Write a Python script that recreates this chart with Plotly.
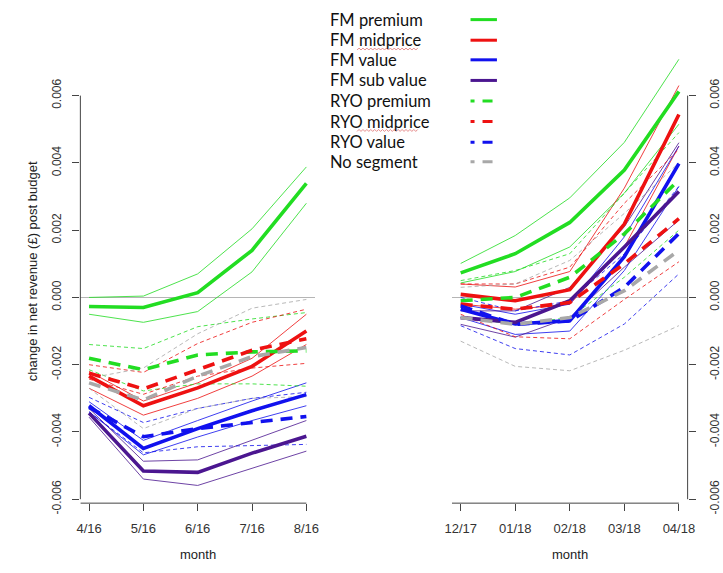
import plotly.graph_objects as go

# ---------------- data ----------------
months_1 = ["4/16", "5/16", "6/16", "7/16", "8/16"]
months_2 = ["12/17", "01/18", "02/18", "03/18", "04/18"]

series_names = ["FM premium", "FM midprice", "FM value", "FM sub value",
                "RYO premium", "RYO midprice", "RYO value", "No segment"]

# period 1 (2016): central estimate, lower and upper bound
fm_premium_1 = [-0.00027, -0.0003, 0.00014, 0.0014, 0.00339]
fm_premium_1_hi = [0.0, 0.00004, 0.0007, 0.00204, 0.00388]
fm_premium_1_lo = [-0.0005, -0.00074, -0.00042, 0.00076, 0.0028]
fm_midprice_1 = [-0.00234, -0.00322, -0.00269, -0.00205, -0.001]
fm_midprice_1_hi = [-0.0022, -0.00308, -0.00254, -0.00181, -0.0005]
fm_midprice_1_lo = [-0.0027, -0.0035, -0.003, -0.00234, -0.0014]
fm_value_1 = [-0.00322, -0.00449, -0.0039, -0.00337, -0.00289]
fm_value_1_hi = [-0.0031, -0.00425, -0.00366, -0.00308, -0.00254]
fm_value_1_lo = [-0.0034, -0.00468, -0.00415, -0.00366, -0.00322]
fm_subvalue_1 = [-0.00344, -0.00516, -0.0052, -0.00463, -0.00413]
fm_subvalue_1_hi = [-0.0033, -0.00487, -0.00483, -0.00425, -0.00366]
fm_subvalue_1_lo = [-0.00356, -0.0054, -0.00559, -0.00507, -0.00457]
ryo_premium_1 = [-0.00181, -0.00215, -0.00171, -0.00162, -0.00159]
ryo_premium_1_hi = [-0.0014, -0.00152, -0.00087, -0.00064, -0.00045]
ryo_premium_1_lo = [-0.00215, -0.00278, -0.00257, -0.00257, -0.00264]
ryo_midprice_1 = [-0.00225, -0.00272, -0.00215, -0.00157, -0.00123]
ryo_midprice_1_hi = [-0.002, -0.00223, -0.00137, -0.00074, -0.00035]
ryo_midprice_1_lo = [-0.00243, -0.00288, -0.00234, -0.0021, -0.00196]
ryo_value_1 = [-0.00327, -0.00414, -0.0039, -0.00371, -0.00354]
ryo_value_1_hi = [-0.00297, -0.00372, -0.0033, -0.003, -0.00282]
ryo_value_1_lo = [-0.0034, -0.00462, -0.00444, -0.0044, -0.00437]
no_segment_1 = [-0.00254, -0.00305, -0.00234, -0.00176, -0.00149]
no_segment_1_hi = [-0.0024, -0.0021, -0.00108, -0.00032, -0.00006]
no_segment_1_lo = [-0.0027, -0.0039, -0.0033, -0.003, -0.00295]

# period 2 (2017/18)
fm_premium_2 = [0.00073, 0.0013, 0.00223, 0.00379, 0.00612]
fm_premium_2_hi = [0.00101, 0.00184, 0.00296, 0.00461, 0.00708]
fm_premium_2_lo = [0.00043, 0.00077, 0.0015, 0.0031, 0.00515]
fm_midprice_2 = [0.00009, -0.0001, 0.00023, 0.00218, 0.00544]
fm_midprice_2_hi = [0.0004, 0.00031, 0.00077, 0.00325, 0.0063]
fm_midprice_2_lo = [-0.0002, -0.00035, -0.0002, 0.0015, 0.0045]
fm_value_2 = [-0.00035, -0.00079, -0.00069, 0.00121, 0.00398]
fm_value_2_hi = [-0.0002, -0.0005, -0.0002, 0.0018, 0.0045]
fm_value_2_lo = [-0.0006, -0.0011, -0.001, 0.0008, 0.0033]
fm_subvalue_2 = [-0.0006, -0.00074, -0.0001, 0.0015, 0.00315]
fm_subvalue_2_hi = [-0.0004, -0.0004, 0.0003, 0.0021, 0.0046]
fm_subvalue_2_lo = [-0.0008, -0.00118, -0.0006, 0.0009, 0.0023]
ryo_premium_2 = [-0.0001, 0.0, 0.0006, 0.00189, 0.0035]
ryo_premium_2_hi = [0.0005, 0.0008, 0.0013, 0.0031, 0.0049]
ryo_premium_2_lo = [-0.0006, -0.0008, -0.0006, 0.0006, 0.002]
ryo_midprice_2 = [-0.0002, -0.00035, -0.00015, 0.001, 0.00234]
ryo_midprice_2_hi = [0.0004, 0.0004, 0.0009, 0.0028, 0.0044]
ryo_midprice_2_lo = [-0.0005, -0.00117, -0.00123, -0.00006, 0.00106]
ryo_value_2 = [-0.00025, -0.0008, -0.0007, 0.0003, 0.0019]
ryo_value_2_hi = [0.0, -0.0004, -0.0001, 0.0013, 0.0033]
ryo_value_2_lo = [-0.00084, -0.00152, -0.00171, -0.00079, 0.0007]
no_segment_2 = [-0.0006, -0.0008, -0.0006, 0.0002, 0.0014]
no_segment_2_hi = [0.0003, 0.0004, 0.0011, 0.0025, 0.004]
no_segment_2_lo = [-0.0013, -0.00205, -0.00218, -0.00157, -0.00084]

y_tick_vals = [-0.006, -0.004, -0.002, 0.0, 0.002, 0.004, 0.006]
y_tick_text = ["-0.006", "-0.004", "-0.002", "0.000", "0.002", "0.004", "0.006"]

# ---------------- styling ----------------
colors = ["#22dd22", "#ee1111", "#1111ee", "#4b1690",
          "#22dd22", "#ee1111", "#1111ee", "#a8a8a8"]
dashed = [False, False, False, False, True, True, True, True]

W, H = 723, 573
def px(x):
    return x / W
def py(y):
    return 1 - y / H

period1 = [
    (fm_premium_1, fm_premium_1_lo, fm_premium_1_hi),
    (fm_midprice_1, fm_midprice_1_lo, fm_midprice_1_hi),
    (fm_value_1, fm_value_1_lo, fm_value_1_hi),
    (fm_subvalue_1, fm_subvalue_1_lo, fm_subvalue_1_hi),
    (ryo_premium_1, ryo_premium_1_lo, ryo_premium_1_hi),
    (ryo_midprice_1, ryo_midprice_1_lo, ryo_midprice_1_hi),
    (ryo_value_1, ryo_value_1_lo, ryo_value_1_hi),
    (no_segment_1, no_segment_1_lo, no_segment_1_hi),
]
period2 = [
    (fm_premium_2, fm_premium_2_lo, fm_premium_2_hi),
    (fm_midprice_2, fm_midprice_2_lo, fm_midprice_2_hi),
    (fm_value_2, fm_value_2_lo, fm_value_2_hi),
    (fm_subvalue_2, fm_subvalue_2_lo, fm_subvalue_2_hi),
    (ryo_premium_2, ryo_premium_2_lo, ryo_premium_2_hi),
    (ryo_midprice_2, ryo_midprice_2_lo, ryo_midprice_2_hi),
    (ryo_value_2, ryo_value_2_lo, ryo_value_2_hi),
    (no_segment_2, no_segment_2_lo, no_segment_2_hi),
]

fig = go.Figure()

for months, period, xa, ya in [(months_1, period1, "x", "y"), (months_2, period2, "x2", "y2")]:
    # thin interval lines first
    for i, (mid, lo, hi) in enumerate(period):
        for band in (lo, hi):
            fig.add_trace(go.Scatter(
                x=months, y=band, mode="lines", xaxis=xa, yaxis=ya,
                line=dict(color=colors[i], width=1, dash="4px,3px" if dashed[i] else "solid"),
                opacity=0.8, showlegend=False, hoverinfo="skip"))
    # thick central lines on top
    for i, (mid, lo, hi) in enumerate(period):
        fig.add_trace(go.Scatter(
            x=months, y=mid, mode="lines", xaxis=xa, yaxis=ya, name=series_names[i],
            line=dict(color=colors[i], width=3.6, dash="12px,8px" if dashed[i] else "solid"),
            showlegend=False))

# ---------------- axes ----------------
y_top, y_bot = 55, 513
scale = 34292.0   # px per unit
zero_px = 303.25
y_range = [(zero_px - y_bot) / scale, (zero_px - y_top) / scale]

tick_font = dict(family="Liberation Sans, Arial", size=12, color="#333333")
xtick_font = dict(family="Liberation Sans, Arial", size=13, color="#333333")

common_x = dict(type="category", range=[-0.16, 4.16], showgrid=False, zeroline=False,
                showline=False, ticks="outside", ticklen=7, tickcolor="#444444",
                tickfont=xtick_font, ticklabelstandoff=6, fixedrange=True)
common_y = dict(range=y_range, showgrid=False, zeroline=True, zerolinecolor="#b5b5b5",
                zerolinewidth=1, showline=False, ticks="outside", ticklen=7,
                tickcolor="#444444", tickvals=y_tick_vals, ticktext=y_tick_text,
                tickangle=-90, tickfont=tick_font, fixedrange=True)

fig.update_layout(
    width=W, height=H,
    margin=dict(l=0, r=0, t=0, b=0),
    paper_bgcolor="white", plot_bgcolor="white",
    xaxis=dict(domain=[px(74), px(314)], anchor="y", **common_x),
    yaxis=dict(domain=[py(y_bot), py(y_top)], anchor="x", side="left",
               ticklabelstandoff=7, **common_y),
    xaxis2=dict(domain=[px(454), px(695)], anchor="y2", **common_x),
    yaxis2=dict(domain=[py(y_bot), py(y_top)], anchor="x2", side="right",
                ticklabelstandoff=9, **common_y),
)

axis_col = "#444444"
shapes = [
    # left panel axis lines (R style)
    dict(type="line", xref="paper", yref="y", x0=px(74), x1=px(74), y0=-0.006, y1=0.006,
         line=dict(color=axis_col, width=1)),
    dict(type="line", xref="x", yref="paper", x0=-0.16, x1=4, y0=py(y_bot), y1=py(y_bot),
         line=dict(color=axis_col, width=1)),
    # right panel axis lines
    dict(type="line", xref="paper", yref="y2", x0=px(695), x1=px(695), y0=-0.006, y1=0.006,
         line=dict(color=axis_col, width=1)),
    dict(type="line", xref="x2", yref="paper", x0=-0.16, x1=4, y0=py(y_bot), y1=py(y_bot),
         line=dict(color=axis_col, width=1)),
]

# ---------------- legend (text left, line sample right) ----------------
legend_font = dict(family="Lato, Noto Sans", size=16.5, color="#111111")
annotations = []
row_y = [20, 41, 61, 82, 103, 124, 145, 165]
for i, name in enumerate(series_names):
    annotations.append(dict(text=name, xref="paper", yref="paper", x=px(327), y=py(row_y[i]),
                            xanchor="left", yanchor="middle", showarrow=False, font=legend_font))
    shapes.append(dict(type="line", xref="paper", yref="paper", x0=px(473), x1=px(500),
                       y0=py(row_y[i]), y1=py(row_y[i]),
                       line=dict(color=colors[i], width=3,
                                 dash="4px,8px,10px,30px" if dashed[i] else "solid")))

# spell-check style wavy underline under "midprice"
def wavy(x0, x1, y, amp=1.0, step=2.0):
    pts = []
    x = x0
    k = 0
    while x <= x1:
        yy = y + (amp if k % 2 == 0 else -amp)
        pts.append((px(x), py(yy)))
        x += step
        k += 1
    return "M " + " L ".join(f"{a:.5f},{b:.5f}" for a, b in pts)

for row in (41, 124):
    shapes.append(dict(type="path", xref="paper", yref="paper", path=wavy(357, 419, row + 9),
                       line=dict(color="#e07070", width=0.8)))

# axis titles
title_font = dict(family="Liberation Sans, Arial", size=13, color="#222222")
annotations.append(dict(text="change in net revenue (£) post budget", xref="paper", yref="paper",
                        x=px(25), y=py(276), textangle=-90, showarrow=False, font=title_font,
                        xanchor="center", yanchor="middle"))
annotations.append(dict(text="month", xref="paper", yref="paper", x=px(194), y=py(565),
                        showarrow=False, font=title_font, xanchor="center", yanchor="middle"))
annotations.append(dict(text="month", xref="paper", yref="paper", x=px(575), y=py(565),
                        showarrow=False, font=title_font, xanchor="center", yanchor="middle"))

fig.update_layout(shapes=shapes, annotations=annotations)

fig.write_html("out.html", config={"displayModeBar": False},
               post_script="document.body.style.margin='0';document.body.style.overflow='hidden';")
